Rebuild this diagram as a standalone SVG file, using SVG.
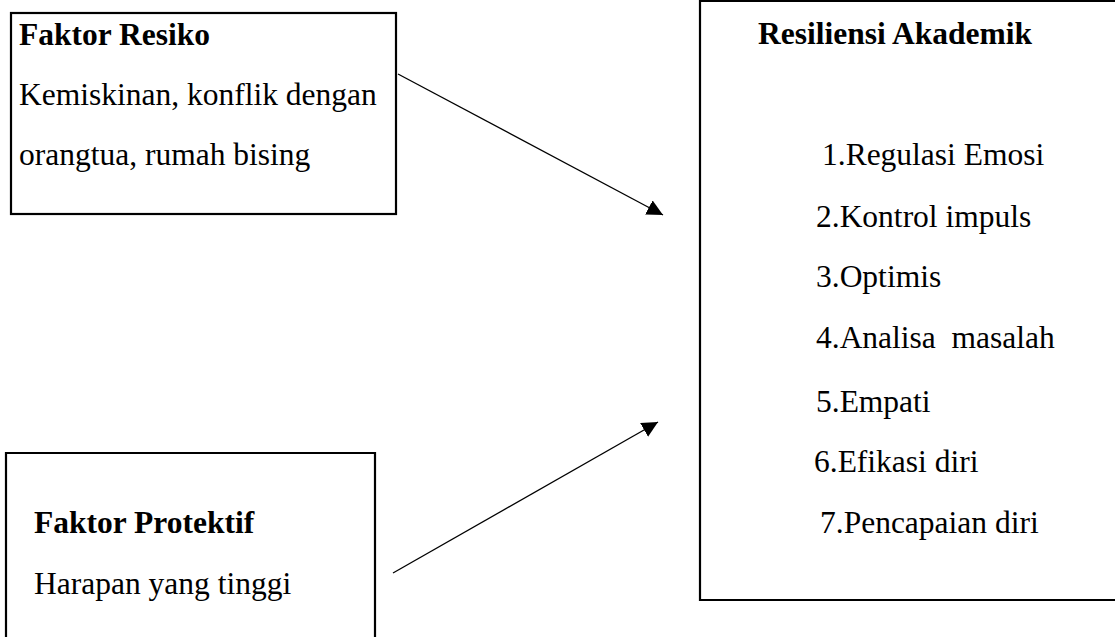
<svg xmlns="http://www.w3.org/2000/svg" width="1115" height="637" viewBox="0 0 1115 637">
<style>
.box{fill:none;stroke:#000;stroke-width:2.2}
.t{font-family:"Liberation Serif","Times New Roman",serif;font-size:31.5px;fill:#000}
.b{font-weight:bold}
.con{stroke:#000;stroke-width:1.3;fill:none;marker-end:url(#ah)}
</style>
<defs>
<marker id="ah" viewBox="0 0 10 10" refX="10" refY="5" markerWidth="16" markerHeight="16" markerUnits="userSpaceOnUse" orient="auto">
<path d="M0,0 L10,5 L0,10 Z" fill="#000"/>
</marker>
</defs>
<rect width="1115" height="637" fill="#fff"/>
<g id="risk">
<rect class="box" x="11" y="13" width="385" height="201"/>
<text class="t b" x="19" y="45">Faktor Resiko</text>
<text class="t" x="19" y="105">Kemiskinan, konflik dengan</text>
<text class="t" x="19" y="165">orangtua, rumah bising</text>
</g>
<g id="protective">
<path class="box" d="M6,640 V453 H375 V640"/>
<text class="t b" x="34" y="533">Faktor Protektif</text>
<text class="t" x="34" y="594">Harapan yang tinggi</text>
</g>
<g id="resilience">
<path class="box" d="M1120,1 H700 V600 H1120"/>
<text class="t b" x="758" y="44">Resiliensi Akademik</text>
<text class="t" x="822" y="165">1.Regulasi Emosi</text>
<text class="t" x="816" y="227">2.Kontrol impuls</text>
<text class="t" x="816" y="287">3.Optimis</text>
<text class="t" x="816" y="348" xml:space="preserve">4.Analisa  masalah</text>
<text class="t" x="816" y="412">5.Empati</text>
<text class="t" x="814" y="472">6.Efikasi diri</text>
<text class="t" x="820" y="533">7.Pencapaian diri</text>
</g>
<g id="connectors">
<line class="con" x1="398" y1="74" x2="663" y2="215"/>
<line class="con" x1="393" y1="573" x2="658" y2="422"/>
</g>
</svg>
